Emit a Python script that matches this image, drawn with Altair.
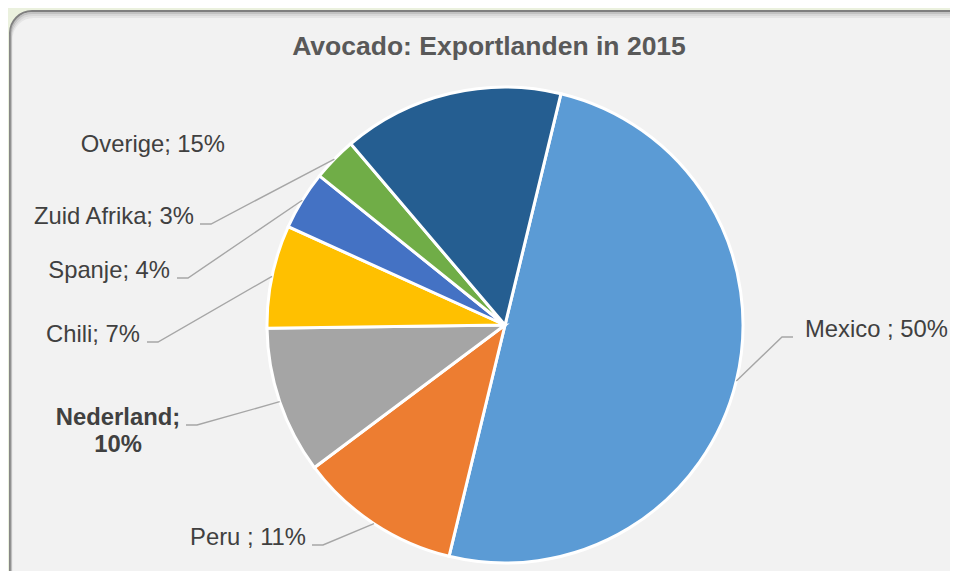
import altair as alt
import numpy as np
import pandas as pd

# ---------------- data ----------------
countries = ["Mexico", "Peru", "Nederland", "Chili", "Spanje", "Zuid Afrika", "Overige"]
shares = [50, 11, 10, 7, 4, 3, 15]
label_texts = ["Mexico ; 50%", "Peru ; 11%", "Nederland;\n10%", "Chili; 7%",
               "Spanje; 4%", "Zuid Afrika; 3%", "Overige; 15%"]
colors = ["#5b9bd5", "#ed7d31", "#a5a5a5", "#ffc000", "#4472c4", "#70ad47", "#255e91"]
title_text = "Avocado: Exportlanden in 2015"

# ---------------- layout (pixels in chart space) ----------------
W, H = 942, 563
CX, CY, R = 497, 317, 238
START_DEG = 13.6
label_x = [797, 298, 110, 132, 162, 186, 217]
label_y = [329, 537, 417, 334, 270, 216, 144]
label_align = ["left", "right", "center", "right", "right", "right", "right"]
label_bold = [False, False, True, False, False, False, False]
leader_x0 = [785, 304, 178, 139, 169, 192, None]
leader_dx = [-11, 11, 11, 11, 11, 11, 0]
FONT = "Liberation Sans"

start = np.deg2rad(START_DEG)
pie_df = pd.DataFrame({"country": countries, "share": shares,
                       "order": list(range(len(countries)))})

# label table
lab_df = pd.DataFrame({"country": countries, "text": label_texts,
                       "x": label_x, "y": label_y, "align": label_align,
                       "bold": label_bold})

# leader lines: horizontal stub next to label, then to slice edge at mid-angle
total = float(sum(shares))
cum = np.cumsum(shares)
rows = []
for i, c in enumerate(countries):
    if leader_x0[i] is None:
        continue
    mid = start + 2 * np.pi * (cum[i] - shares[i] / 2) / total
    ex = CX + R * np.sin(mid)
    ey = CY - R * np.cos(mid)
    ly = label_y[i]
    rows += [
        {"country": c, "pt": 0, "x": leader_x0[i], "y": ly},
        {"country": c, "pt": 1, "x": leader_x0[i] + leader_dx[i], "y": ly},
        {"country": c, "pt": 2, "x": ex, "y": ey},
    ]
lead_df = pd.DataFrame(rows)

one = pd.DataFrame({"a": [0]})

# ---------------- frame ----------------
frame = alt.Chart(one).mark_rect(
    cornerRadius=22, fill="#f2f2f2", stroke="#7f7f7f", strokeWidth=2
).encode(x=alt.value(2), x2=alt.value(1010), y=alt.value(3), y2=alt.value(700))

shadows = [
    alt.Chart(one).mark_rect(
        cornerRadius=22, fill=None, stroke="#9a9a9a", strokeWidth=2, opacity=op
    ).encode(x=alt.value(2 + dx), x2=alt.value(1010), y=alt.value(3 + dy), y2=alt.value(700))
    for dx, dy, op in [(0.5, 2, 0.55), (1, 4, 0.3), (1.5, 6, 0.15)]
]

# ---------------- pie ----------------
pie = alt.Chart(pie_df).mark_arc(radius=R, stroke="white", strokeWidth=3).encode(
    theta=alt.Theta("share:Q", stack=True,
                    scale=alt.Scale(range=[start, start + 2 * np.pi])),
    color=alt.Color("country:N", scale=alt.Scale(domain=countries, range=colors),
                    legend=None),
    order=alt.Order("order:Q"),
    x=alt.value(CX),
    y=alt.value(CY),
)

leaders = alt.Chart(lead_df).mark_line(color="#a6a6a6", strokeWidth=1.4).encode(
    x=alt.X("x:Q", scale=None, axis=None),
    y=alt.Y("y:Q", scale=None, axis=None),
    detail="country:N",
    order="pt:Q",
)


def text_layer(align, bold):
    return alt.Chart(lab_df).transform_filter(
        (alt.datum.align == align) & (alt.datum.bold == bold)
    ).mark_text(
        align=align, baseline="alphabetic", font=FONT, fontSize=23.8,
        fontWeight="bold" if bold else "normal", color="#404040",
        lineBreak="\n", lineHeight=27,
    ).encode(
        x=alt.X("x:Q", scale=None, axis=None),
        y=alt.Y("y:Q", scale=None, axis=None),
        text="text:N",
    )


labels = [text_layer("left", False), text_layer("right", False), text_layer("center", True)]

title = alt.Chart(one).mark_text(
    text=title_text, font=FONT, fontSize=26.5, fontWeight="bold",
    color="#595959", align="center", baseline="alphabetic",
).encode(x=alt.value(481), y=alt.value(47))

chart = alt.layer(frame, *shadows, pie, leaders, *labels, title).properties(
    width=W, height=H, background="#ebf1de", padding=0,
    autosize=alt.AutoSizeParams(type="none"),
).configure_view(stroke=None)

chart.save("out.html", embed_options={"renderer": "svg", "actions": False})
